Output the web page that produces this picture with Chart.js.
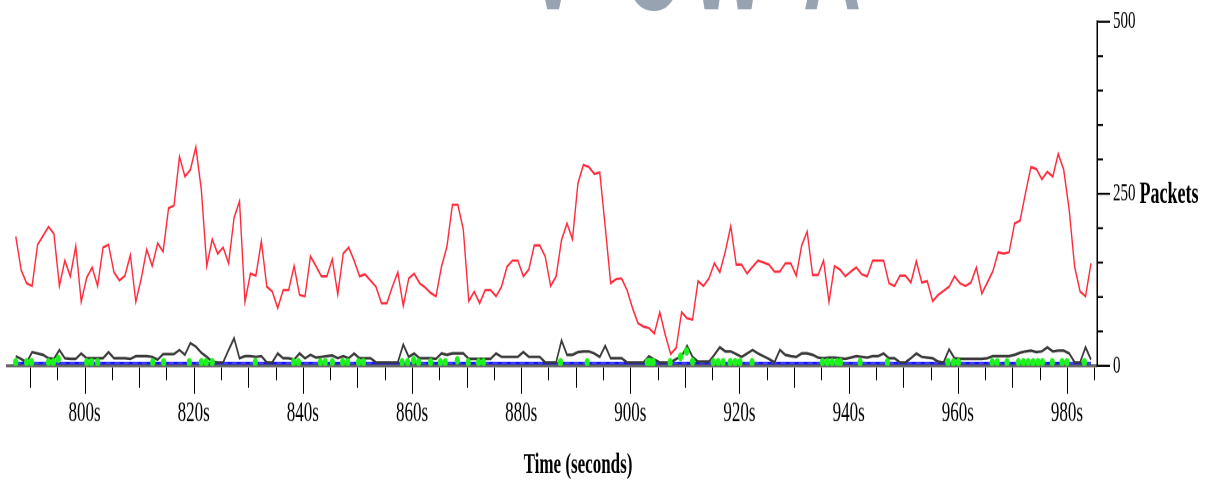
<!DOCTYPE html>
<html>
<head>
<meta charset="utf-8">
<script src="https://cdn.jsdelivr.net/npm/chart.js@4.4.1/dist/chart.umd.min.js"></script>
<style>
  html, body { margin: 0; padding: 0; background: #fff; }
  body { width: 1219px; height: 484px; }
  /* the plot is laid out on a short canvas and shown stretched vertically */
  #wrap { width: 1219px; height: 285px; transform: scaleY(1.69825); transform-origin: 0 0; }
</style>
</head>
<body>
<div id="wrap"><canvas id="c" width="1219" height="285"></canvas></div>
<script>
// one sample per second, first sample time (seconds)
const startTime = 787.4;

// upper trace (packets per second)
const redPackets = [
  188, 139, 120, 116, 176, 189, 202, 192, 116, 153, 130, 174, 93, 128, 143, 116, 172, 176, 136, 124,
  131, 161, 93, 127, 169, 145, 178, 166, 229, 233, 304, 275, 285, 318, 256, 145, 184, 163, 172, 149,
  215, 239, 93, 134, 131, 181, 115, 108, 84, 110, 110, 145, 103, 101, 159, 145, 130, 130, 155, 104,
  163, 172, 153, 130, 133, 124, 115, 91, 91, 115, 136, 87, 127, 134, 120, 114, 106, 101, 144, 173,
  234, 234, 198, 94, 108, 91, 110, 110, 101, 115, 144, 153, 153, 130, 140, 175, 175, 159, 116, 130,
  183, 207, 184, 265, 292, 289, 279, 281, 202, 120, 126, 127, 110, 84, 62, 57, 55, 47, 78, 45,
  17, 26, 78, 69, 67, 123, 116, 127, 149, 136, 166, 203, 147, 147, 134, 144, 153, 150, 147, 137,
  137, 149, 149, 131, 175, 195, 132, 132, 153, 93, 145, 140, 130, 137, 143, 133, 130, 153, 153, 153,
  120, 116, 131, 131, 121, 152, 121, 123, 94, 103, 109, 115, 130, 120, 116, 121, 143, 105, 121, 137,
  165, 163, 165, 207, 211, 251, 289, 286, 271, 282, 275, 308, 285, 227, 144, 108, 101, 149
];

// lower trace (packets per second)
const blackPackets = [
  14, 10, 5, 20, 18, 16, 11, 10, 23, 11, 10, 10, 18, 11, 11, 11, 11, 20, 11, 11,
  11, 10, 14, 14, 14, 13, 9, 17, 17, 17, 23, 16, 33, 28, 19, 13, 6, 5, 5, 23,
  40, 11, 14, 14, 13, 14, 5, 5, 18, 11, 11, 9, 18, 11, 16, 12, 13, 14, 15, 11,
  14, 11, 18, 11, 11, 11, 5, 5, 5, 5, 5, 31, 13, 18, 11, 11, 11, 10, 18, 16,
  18, 18, 18, 10, 10, 10, 10, 10, 18, 13, 13, 13, 13, 20, 13, 13, 13, 5, 5, 5,
  37, 16, 16, 20, 21, 21, 18, 13, 29, 11, 11, 11, 5, 5, 5, 5, 14, 9, 5, 5,
  5, 10, 14, 29, 13, 6, 6, 6, 16, 27, 21, 21, 17, 13, 18, 23, 18, 14, 10, 5,
  23, 16, 14, 13, 18, 18, 16, 12, 11, 12, 12, 11, 10, 12, 14, 13, 12, 14, 14, 18,
  11, 11, 5, 5, 11, 18, 13, 12, 11, 6, 5, 24, 11, 10, 10, 10, 10, 10, 11, 14,
  14, 14, 14, 16, 19, 21, 22, 20, 21, 27, 21, 22, 22, 18, 5, 5, 27, 9
];

// flat reference level and its time span
const baselineLevel = 4;
const baselineSpan = [787.4, 984.4];

// event markers: time (s) and level (packets)
const markerTimes = [
  787.4, 789.4, 790.3, 793.4, 794.3, 795.2, 800.4, 801.3, 802.4, 812.5, 814.5, 819.2, 821.4, 822.3, 823.4,
  831.3, 838.3, 839.2, 843.2, 844.1, 845.4, 847.3, 848.2, 850.2, 851.1, 858.2, 859.2, 860.3, 861.2, 863.4,
  865.2, 866.1, 868.3, 870.3, 872.2, 873.1, 887.2, 892.1, 903.1, 903.7, 904.2, 907.3, 909.2, 910.3, 911.4,
  915.2, 916.1, 917.0, 918.3, 919.2, 920.1, 922.3, 935.2, 936.1, 937.0, 937.9, 938.5, 942.1, 947.1, 958.2,
  959.2, 960.1, 966.3, 967.2, 969.0, 971.1, 972.0, 972.9, 973.8, 974.7, 975.5, 977.3, 979.1, 980.0, 983.2
];
const markerValues = [
  5, 5, 5, 5, 5, 10, 5, 5, 5, 5, 5, 5, 5, 5, 5,
  5, 5, 5, 5, 5, 5, 5, 5, 5, 5, 5, 5, 8, 5, 5,
  5, 5, 8, 5, 5, 5, 5, 5, 5, 5, 5, 5, 13, 21, 6,
  5, 5, 5, 5, 5, 5, 5, 5, 5, 5, 5, 5, 5, 5, 5,
  5, 5, 5, 5, 5, 5, 5, 5, 5, 5, 5, 5, 5, 5, 5
];

// axis settings
const timeMin = 785.8, timeMax = 985.5;
const timeStep = 5, timeLabelEvery = 20, timeMidEvery = 10;
const packetMin = 0, packetMax = 500, packetStep = 50, packetLabelEvery = 250;
const timeUnit = 's';
const xTitle = 'Time (seconds)';
const yTitle = 'Packets';

const pts = (vals) => vals.map((v, i) => ({ x: startTime + i, y: v }));
const isMult = (v, m) => Math.abs(v / m - Math.round(v / m)) < 1e-6;

const SERIF = "'Liberation Serif', 'DejaVu Serif', serif";

const decorations = {
  id: 'decorations',
  beforeDraw(chart) {
    // grey lettering cut off at the top edge
    const ctx = chart.ctx;
    ctx.save();
    ctx.fillStyle = '#97a3b0';
    ctx.font = "bold 80px 'Liberation Sans', sans-serif";
    ctx.textAlign = 'center';
    ctx.textBaseline = 'alphabetic';
    [['V', 553], ['C', 652], ['W', 728], ['A', 832]].forEach(([ch, px]) => ctx.fillText(ch, px, 5.6));
    ctx.restore();
  },
  afterDraw(chart) {
    const { ctx, scales: { x, y } } = chart;
    ctx.save();
    ctx.strokeStyle = '#000';
    // time ticks: long every 20 s, medium every 10 s, short every 5 s
    ctx.lineWidth = 1;
    x.ticks.forEach(t => {
      const px = Math.round(x.getPixelForValue(t.value)) + 0.5;
      const len = isMult(t.value, timeLabelEvery) ? 16.5 : isMult(t.value, timeMidEvery) ? 13 : 8.5;
      ctx.beginPath();
      ctx.moveTo(px, x.top + 1);
      ctx.lineTo(px, x.top + len);
      ctx.stroke();
    });
    // packet ticks on the right axis
    ctx.lineWidth = 1.2;
    y.ticks.forEach(t => {
      const py = y.getPixelForValue(t.value);
      const len = isMult(t.value, packetLabelEvery) ? 13 : 6;
      ctx.beginPath();
      ctx.moveTo(y.left, py);
      ctx.lineTo(y.left + len, py);
      ctx.stroke();
    });
    // axis names
    ctx.fillStyle = '#000';
    ctx.textBaseline = 'middle';
    ctx.font = '15px ' + SERIF;
    const labelW = ctx.measureText(String(packetLabelEvery)).width;
    ctx.font = 'bold 18px ' + SERIF;
    ctx.textAlign = 'left';
    ctx.fillText(yTitle, y.left + 16 + labelW + 4, y.getPixelForValue(packetLabelEvery) + 0.5);
    ctx.font = 'bold 17px ' + SERIF;
    ctx.textAlign = 'center';
    ctx.fillText(xTitle, 578, 273.9);
    ctx.restore();
  }
};

new Chart(document.getElementById('c'), {
  type: 'line',
  data: {
    datasets: [
      {
        data: pts(redPackets), borderColor: '#ff2b3d', borderWidth: 1.4,
        pointRadius: 0, tension: 0, order: 0
      },
      {
        data: markerTimes.map((t, i) => ({ x: t, y: markerValues[i] })),
        showLine: false, pointRadius: 2.6, pointHoverRadius: 2.6,
        pointBackgroundColor: '#1cf21c', pointBorderWidth: 0, order: 1
      },
      {
        data: pts(blackPackets), borderColor: '#3a3a3a', borderWidth: 1.6,
        pointRadius: 0, tension: 0, order: 2
      },
      {
        data: baselineSpan.map(t => ({ x: t, y: baselineLevel })),
        borderColor: 'rgba(255,255,255,0.45)', borderWidth: 0.5, borderDash: [5, 4],
        pointRadius: 0, order: 3
      },
      {
        data: baselineSpan.map(t => ({ x: t, y: baselineLevel })),
        borderColor: '#1414ff', borderWidth: 1.6, pointRadius: 0, order: 4
      }
    ]
  },
  options: {
    responsive: false,
    animation: false,
    devicePixelRatio: 2,
    layout: { padding: { top: 12.8, left: 7, right: 0, bottom: 0 } },
    plugins: { legend: { display: false }, tooltip: { enabled: false } },
    scales: {
      x: {
        type: 'linear',
        min: timeMin, max: timeMax,
        afterFit: s => { s.height = 69.6; },
        grid: { display: true, drawOnChartArea: false, drawTicks: true, tickLength: 16, tickColor: 'rgba(0,0,0,0)' },
        border: { display: true, color: '#666', width: 1.8 },
        ticks: {
          stepSize: timeStep, includeBounds: false, autoSkip: false, maxRotation: 0, padding: 2,
          color: '#000', font: { family: SERIF, size: 17 },
          callback: v => isMult(v, timeLabelEvery) ? v + timeUnit : ''
        }
      },
      y: {
        type: 'linear', position: 'right',
        min: packetMin, max: packetMax,
        afterFit: s => { s.width = 122; },
        grid: { display: true, drawOnChartArea: false, drawTicks: true, tickLength: 13, tickColor: 'rgba(0,0,0,0)' },
        border: { display: true, color: '#000', width: 1.5 },
        ticks: {
          stepSize: packetStep, autoSkip: false, padding: 3,
          color: '#000', font: { family: SERIF, size: 15 },
          callback: v => isMult(v, packetLabelEvery) ? String(v) : ''
        }
      }
    }
  },
  plugins: [decorations]
});
</script>
</body>
</html>
